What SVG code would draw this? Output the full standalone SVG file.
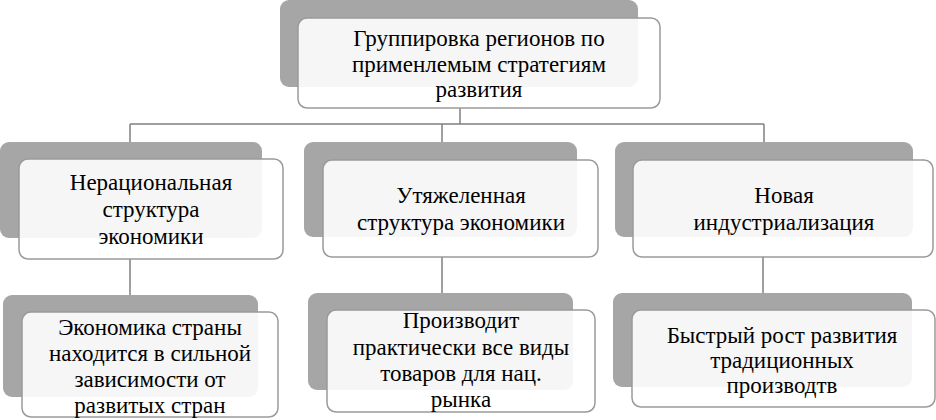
<svg xmlns="http://www.w3.org/2000/svg" width="936" height="420" viewBox="0 0 936 420">
<style>
text{font-family:'Liberation Serif','Times New Roman',serif !important;font-size:23px;text-anchor:middle;fill:#000;}
.bg{fill:#a6a6a6;}
.fg{fill:#ffffff;fill-opacity:0.9;stroke:#9a9a9a;stroke-width:1.5;}
</style>
<rect width="936" height="420" fill="#ffffff"/>
<g id="connectors" fill="none" stroke="#808080" stroke-width="1.5">
<path d="M460 108 V124 M130 124 H764 M130 124 V142 M442 124 V142 M764 124 V142"/>
<path d="M130 259 V295 M442 257 V293 M763 257 V293"/>
</g>
<g id="root">
<rect class="bg" x="280" y="0" width="358" height="87" rx="9"/>
<rect class="fg" x="298" y="18" width="362" height="90" rx="9"/>
<text style="font-family:'Liberation Serif',serif" x="479" y="46">Группировка регионов по</text>
<text style="font-family:'Liberation Serif',serif" x="479" y="72">применлемым стратегиям</text>
<text style="font-family:'Liberation Serif',serif" x="479" y="97">развития</text>
</g>
<g id="n1">
<rect class="bg" x="0" y="142" width="262" height="96" rx="9"/>
<rect class="fg" x="19" y="159" width="264" height="100" rx="9"/>
<text style="font-family:'Liberation Serif',serif" x="151" y="190">Нерациональная</text>
<text style="font-family:'Liberation Serif',serif" x="151" y="217">структура</text>
<text style="font-family:'Liberation Serif',serif" x="151" y="244">экономики</text>
</g>
<g id="n2">
<rect class="bg" x="304" y="142" width="273" height="95" rx="9"/>
<rect class="fg" x="323" y="160" width="275" height="97" rx="9"/>
<text style="font-family:'Liberation Serif',serif" x="461" y="203">Утяжеленная</text>
<text style="font-family:'Liberation Serif',serif" x="461" y="230">структура экономики</text>
</g>
<g id="n3">
<rect class="bg" x="615" y="142" width="298" height="95" rx="9"/>
<rect class="fg" x="633" y="160" width="300" height="97" rx="9"/>
<text style="font-family:'Liberation Serif',serif" x="784" y="203">Новая</text>
<text style="font-family:'Liberation Serif',serif" x="784" y="230">индустриализация</text>
</g>
<g id="n4">
<rect class="bg" x="3" y="295" width="255" height="102" rx="9"/>
<rect class="fg" x="22" y="312" width="256" height="105" rx="9"/>
<text style="font-family:'Liberation Serif',serif" x="150" y="335">Экономика страны</text>
<text style="font-family:'Liberation Serif',serif" x="150" y="361">находится в сильной</text>
<text style="font-family:'Liberation Serif',serif" x="150" y="387">зависимости от</text>
<text style="font-family:'Liberation Serif',serif" x="150" y="413">развитых стран</text>
</g>
<g id="n5">
<rect class="bg" x="308" y="293" width="265" height="97" rx="9"/>
<rect class="fg" x="327" y="310" width="268" height="102" rx="9"/>
<text style="font-family:'Liberation Serif',serif" x="461" y="328">Производит</text>
<text style="font-family:'Liberation Serif',serif" x="461" y="355">практически все виды</text>
<text style="font-family:'Liberation Serif',serif" x="461" y="381">товаров для нац.</text>
<text style="font-family:'Liberation Serif',serif" x="461" y="407">рынка</text>
</g>
<g id="n6">
<rect class="bg" x="613" y="293" width="299" height="94" rx="9"/>
<rect class="fg" x="632" y="310" width="303" height="97" rx="9"/>
<text style="font-family:'Liberation Serif',serif" x="782" y="343">Быстрый рост развития</text>
<text style="font-family:'Liberation Serif',serif" x="782" y="368">традиционных</text>
<text style="font-family:'Liberation Serif',serif" x="782" y="393">производтв</text>
</g>
</svg>
